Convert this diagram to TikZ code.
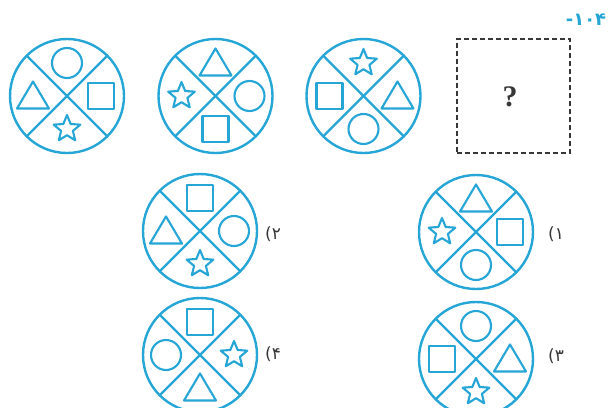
\documentclass[tikz,border=0pt]{standalone}
\usepackage{fontspec}
\usetikzlibrary{shapes.geometric}
\newfontfamily\pfont{DejaVu Sans}
\newfontfamily\qfont{Liberation Serif}
\definecolor{cy}{RGB}{38,166,214}
\definecolor{dk}{RGB}{55,55,55}
\tikzset{
  ring/.style={draw=cy, line width=2.4bp},
  shp/.style={draw=cy, line width=2.1bp, line join=round},
  disk/.style={circle, ring, minimum size=114bp, inner sep=0pt, outer sep=0pt},
  pics/crc/.style={code={\draw[shp] (0,0) circle (15);}},
  pics/sqr/.style={code={\draw[shp] (-13,-13) rectangle (13,13);}},
  pics/tri/.style={code={\draw[shp] (-16,-12.5) -- (16,-12.5) -- (0,14.5) -- cycle;}},
  pics/str/.style={code={\draw[shp] (90:14) -- (126:6.2) -- (162:14) -- (198:6.2) -- (234:14) -- (270:6.2) -- (306:14) -- (342:6.2) -- (18:14) -- (54:6.2) -- cycle;}},
  lab/.style={text=dk, font=\pfont\fontsize{17}{19}\selectfont, inner sep=1pt},
}
\newcommand\mydisk[7]{%
  \node[disk] (#1) at (#2,#3) {};
  \draw[ring] (#1.135) -- (#1.-45);
  \draw[ring] (#1.45) -- (#1.-135);
  \path (#1.center) ++(0,33) pic {#4};
  \path (#1.center) ++(34,0) pic {#5};
  \path (#1.center) ++(0,-33) pic {#6};
  \path (#1.center) ++(-34,0) pic {#7};
}
\begin{document}
\begin{tikzpicture}[x=1bp,y=1bp]
\useasboundingbox (0,0) rectangle (614,407);
\fill[white] (0,0) rectangle (614,407);
% top row
\mydisk{a}{67}{311}{crc}{sqr}{str}{tri}
\mydisk{b}{215.5}{311}{tri}{crc}{sqr}{str}
\mydisk{c}{363.5}{311}{str}{tri}{crc}{sqr}
\node[draw=dk, dashed, line width=1.2bp, dash pattern=on 5bp off 3bp, minimum width=113bp, minimum height=114bp, inner sep=0pt] (q) at (513.5,311) {};
\node[text=dk, font=\qfont\bfseries\fontsize{30}{32}\selectfont] (qm) at (510,310) {?};
\node[text=cy, font=\pfont\bfseries\fontsize{18}{20}\selectfont] (num) at (586,387) {-۱۰۴};
% options
\mydisk{o2}{200}{176}{sqr}{crc}{str}{tri}
\mydisk{o1}{476}{175}{tri}{sqr}{crc}{str}
\mydisk{o4}{200}{52}{sqr}{str}{tri}{crc}
\mydisk{o3}{476}{48}{crc}{tri}{str}{sqr}
\node[lab] (l2) at (273,173) {(۲};
\node[lab] (l1) at (556,173) {(۱};
\node[lab] (l4) at (273,53) {(۴};
\node[lab] (l3) at (556,51) {(۳};
\end{tikzpicture}
\end{document}
